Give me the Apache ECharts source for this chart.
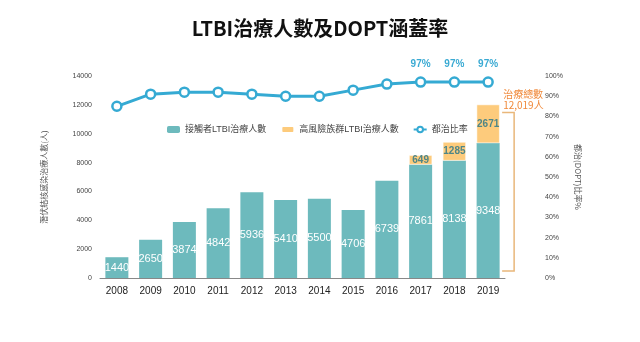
<!DOCTYPE html>
<html><head><meta charset="utf-8">
<script src="https://cdn.jsdelivr.net/npm/echarts@6/dist/echarts.min.js"></script>
<style>html,body{margin:0;padding:0;background:#fff}#c{width:640px;height:342px}</style>
</head><body><div id="c"></div>
<script>
const years = ['2008','2009','2010','2011','2012','2013','2014','2015','2016','2017','2018','2019'];
const contactValues = [1440,2650,3874,4842,5936,5410,5500,4706,6739,7861,8138,9348];
const highRiskValues = [null,null,null,null,null,null,null,null,null,649,1285,2671];
const dotRates = [85,91,92,92,91,90,90,93,96,97,97,97];
const labeledRateIdx = [9,10,11];
const totalLabel = '治療總數\n12,019人';

const FONT = '"Liberation Sans","Noto Sans CJK TC",sans-serif';
const CJK = '"Noto Sans CJK TC","Noto Sans",sans-serif';
const chart = echarts.init(document.getElementById('c'));
const option = {
  animation:false,
  textStyle:{fontFamily:FONT},
  title:{text:'LTBI治療人數及DOPT涵蓋率',left:'center',top:13,
    textStyle:{fontSize:20,fontWeight:'bold',color:'#111',fontFamily:CJK}},
  legend:{top:120,left:162,itemWidth:13,itemHeight:7,itemGap:14,
    textStyle:{fontSize:9,color:'#444',fontFamily:FONT},
    data:[{name:'接觸者LTBI治療人數'},{name:'高風險族群LTBI治療人數'},{name:'都治比率'}]},
  grid:{left:100,right:135,top:76,bottom:64},
  xAxis:{type:'category',data:years,
    axisLine:{lineStyle:{color:'#888'}},axisTick:{show:false},
    axisLabel:{fontSize:10,color:'#222',margin:8}},
  yAxis:[
    {type:'value',min:0,max:14000,interval:2000,
     name:'潛伏結核感染治療人數(人)',nameLocation:'middle',nameGap:52,nameRotate:90,
     nameTextStyle:{fontSize:8,color:'#555',fontFamily:CJK},
     splitLine:{show:false},axisLine:{show:false},axisTick:{show:false},
     axisLabel:{fontSize:7,color:'#444',margin:8,formatter:v=>String(v)}},
    {type:'value',min:0,max:100,interval:10,
     name:'都治(DOPT)比率%',nameLocation:'middle',nameGap:63,nameRotate:-90,
     nameTextStyle:{fontSize:8,color:'#555',fontFamily:CJK},
     splitLine:{show:false},axisLine:{show:false},axisTick:{show:false},
     axisLabel:{fontSize:7,color:'#444',margin:40,formatter:'{value}%'}}
  ],
  series:[
    {name:'接觸者LTBI治療人數',type:'bar',stack:'t',barWidth:23,data:contactValues,
     itemStyle:{color:'#6dbabd'},
     label:{show:true,position:'inside',color:'#fff',fontSize:11}},
    {name:'高風險族群LTBI治療人數',type:'bar',stack:'t',barWidth:23,data:highRiskValues,
     itemStyle:{color:'#fdcb7c',borderColor:'#fff',borderWidth:0.5},
     label:{show:true,position:'inside',color:'#4f8687',fontSize:10,fontWeight:'bold'}},
    {name:'都治比率',type:'line',yAxisIndex:1,
     data:dotRates.map((v,i)=>({value:v,label:{show:labeledRateIdx.includes(i)}})),
     symbol:'circle',symbolSize:9,
     lineStyle:{color:'#35aad3',width:3},
     itemStyle:{color:'#fff',borderColor:'#35aad3',borderWidth:2.5},
     label:{position:'top',distance:7,color:'#3aaad3',fontSize:10,fontWeight:'bold',formatter:'{c}%'}}
  ]
};
chart.setOption(option);

const last = years.length-1;
const pTop = chart.convertToPixel({xAxisIndex:0,yAxisIndex:0},[last, contactValues[last]+highRiskValues[last]]);
const pBot = chart.convertToPixel({xAxisIndex:0,yAxisIndex:0},[last, 0]);
const bx = pTop[0]+26, y1 = pTop[1]+8, y2 = pBot[1]-7;
chart.setOption({graphic:[
  {type:'polyline',shape:{points:[[bx-12,y1],[bx,y1],[bx,y2],[bx-12,y2]]},
   style:{stroke:'#e9b77a',lineWidth:1.5,fill:null}},
  {type:'text',left:bx-11,top:y1-24,style:{text:totalLabel,fill:'#f0893a',fontSize:10,lineHeight:11,fontFamily:CJK}}
]});
</script></body></html>
